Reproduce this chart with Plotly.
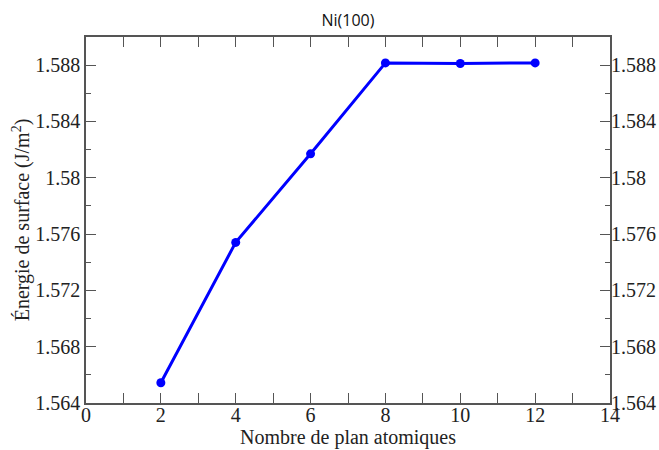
import plotly.graph_objects as go

planes = [2, 4, 6, 8, 10, 12]
energy = [1.56544, 1.57541, 1.58170, 1.58816, 1.58812, 1.58816]
x_ticks = [0, 2, 4, 6, 8, 10, 12, 14]
y_ticks = [1.564, 1.568, 1.572, 1.576, 1.58, 1.584, 1.588]
y_labels = ["1.564", "1.568", "1.572", "1.576", "1.58", "1.584", "1.588"]

serif = "Liberation Serif"
axcol = "#555555"

fig = go.Figure()
fig.add_trace(go.Scatter(
    x=planes, y=energy, mode="lines+markers",
    line=dict(color="#0000ff", width=3),
    marker=dict(color="#0000ff", size=9, symbol="circle"),
    showlegend=False, hoverinfo="skip"))
fig.add_trace(go.Scatter(
    x=planes, y=energy, yaxis="y2", mode="lines",
    line=dict(color="rgba(0,0,0,0)"), showlegend=False, hoverinfo="skip"))

tick_font = dict(family=serif, size=20, color="#222222")
title_font = dict(family=serif, size=20, color="#222222")

fig.update_layout(
    width=659, height=450,
    margin=dict(l=86, r=49, t=37, b=47, autoexpand=False),
    paper_bgcolor="white", plot_bgcolor="white",
    title=dict(text="Ni(100)", x=0.5, xref="paper", y=0.955, yref="container",
               xanchor="center", yanchor="middle",
               font=dict(family="Open Sans", size=16, color="#111111")),
    xaxis=dict(range=[0, 14], tickvals=x_ticks, ticktext=[str(v) for v in x_ticks],
               ticks="inside", ticklen=10, tickcolor=axcol, tickwidth=1,
               minor=dict(dtick=1, ticks="inside", ticklen=5, tickcolor=axcol, tickwidth=1),
               showline=True, linecolor=axcol, linewidth=1.5, mirror="allticks",
               showgrid=False, zeroline=False, automargin=False,
               tickfont=tick_font, ticklabelstandoff=-7,
               title=dict(text="Nombre de plan atomiques", font=title_font, standoff=0)),
    yaxis=dict(range=[1.564, 1.590], tickvals=y_ticks, ticktext=y_labels,
               ticks="inside", ticklen=10, tickcolor=axcol, tickwidth=1,
               minor=dict(dtick=0.002, tick0=1.564, ticks="inside", ticklen=5, tickcolor=axcol, tickwidth=1),
               showline=True, linecolor=axcol, linewidth=1.5, mirror="allticks",
               showgrid=False, zeroline=False, automargin=False,
               tickfont=tick_font,
               title=dict(text="Énergie de surface (J/m<sup>2</sup>)", font=title_font, standoff=0)),
    yaxis2=dict(range=[1.564, 1.590], tickvals=y_ticks, ticktext=y_labels,
                overlaying="y", side="right", matches="y",
                ticks="", showline=False, showgrid=False, zeroline=False, automargin=False,
                tickfont=tick_font),
)

fig.write_html("out.html")
